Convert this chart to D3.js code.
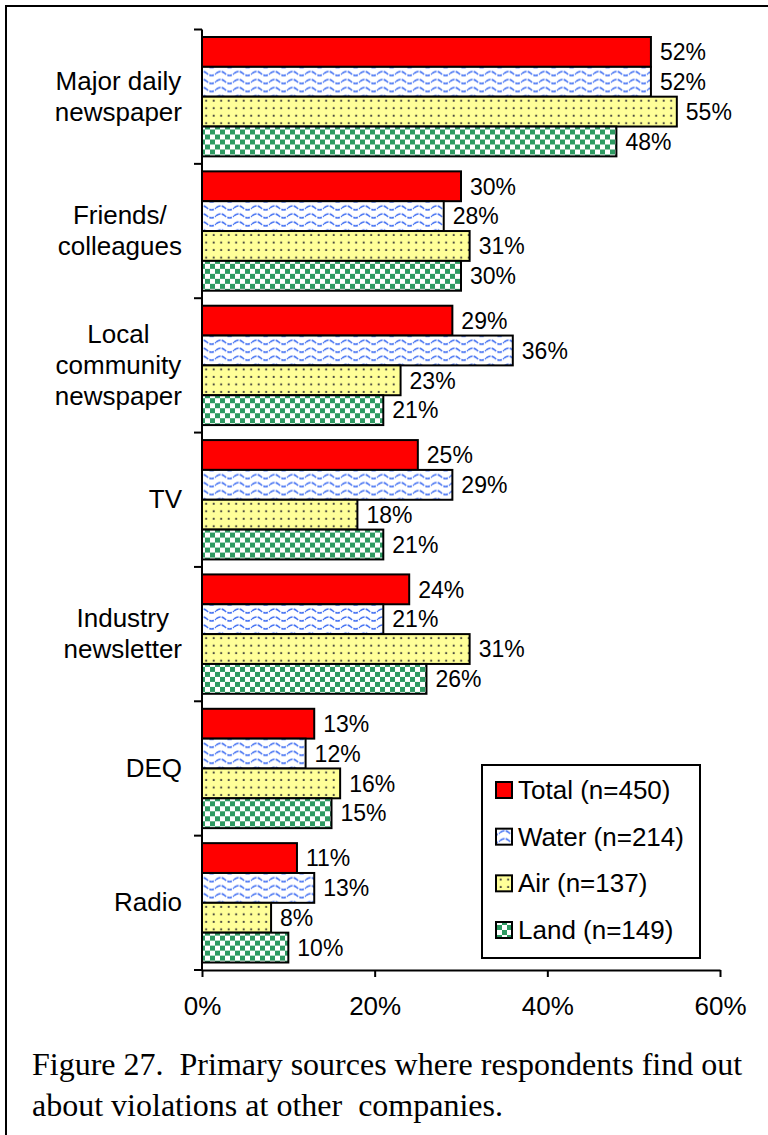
<!DOCTYPE html>
<html>
<head>
<meta charset="utf-8">
<script src="https://cdn.jsdelivr.net/npm/d3@7"></script>
<style>
body{margin:0;background:#fff}
svg{display:block}
</style>
</head>
<body>
<div id="chart"></div>
<script>

// data
const categories = [
["Major daily","newspaper"],
["Friends/","colleagues"],
["Local","community","newspaper"],
["TV"],
["Industry","newsletter"],
["DEQ"],
["Radio"]
]

const series = ["Total","Water","Air","Land"]
const legendLabels = ["Total (n=450)","Water (n=214)","Air (n=137)","Land (n=149)"]

const totalVals = [52,30,29,25,24,13,11]
const waterVals = [52,28,36,29,21,12,13]
const airVals = [55,31,23,18,31,16,8]
const landVals = [48,30,21,21,26,15,10]

const xTicks = [0,20,40,60]

const captionLines = [
"Figure 27.  Primary sources where respondents find out",
"about violations at other  companies."
]

const width = 768
const height = 1135
const sans = "'Liberation Sans', Arial, sans-serif"

const svg = d3.select("#chart")
.append("svg")
.attr("width",width)
.attr("height",height)

const defs = svg.append("defs")

// water: blue waves on white
const pw = defs.append("pattern")
.attr("id","p-water")
.attr("patternUnits","userSpaceOnUse")
.attr("width",18)
.attr("height",8)
pw.append("rect").attr("width",18).attr("height",8).attr("fill","#fff")
pw.append("path")
.attr("d","M0,4 Q4.5,0 9,4 T18,4")
.attr("fill","none")
.attr("stroke","#3f6ef2")
.attr("stroke-width",1.6)
.attr("stroke-dasharray","5,1.2")

// air: dots on pale yellow
const pa = defs.append("pattern")
.attr("id","p-air")
.attr("patternUnits","userSpaceOnUse")
.attr("width",7.5)
.attr("height",7.5)
pa.append("rect").attr("width",7.5).attr("height",7.5).attr("fill","#ffff99")
pa.append("circle").attr("cx",3.7).attr("cy",3.7).attr("r",1.1).attr("fill","#4a4a40")

// land: green checkerboard
const pl = defs.append("pattern")
.attr("id","p-land")
.attr("patternUnits","userSpaceOnUse")
.attr("width",10)
.attr("height",10)
pl.append("rect").attr("width",10).attr("height",10).attr("fill","#fff")
pl.append("rect").attr("width",5).attr("height",5).attr("fill","#2e9a62")
pl.append("rect").attr("x",5).attr("y",5).attr("width",5).attr("height",5).attr("fill","#2e9a62")

const fills = {
Total:"#ff0000",
Water:"url(#p-water)",
Air:"url(#p-air)",
Land:"url(#p-land)"
}

// outer frame (runs off right and bottom edges)
svg.append("rect")
.attr("x",6)
.attr("y",6)
.attr("width",width+20)
.attr("height",height+20)
.attr("fill","none")
.attr("stroke","#000")
.attr("stroke-width",2)

const rows = categories.map((c,i)=>({
key:i,
lines:c,
values:[totalVals[i],waterVals[i],airVals[i],landVals[i]]
}))

const x = d3.scaleLinear()
.domain([0,60])
.range([202,720])

const y = d3.scaleBand()
.domain(rows.map(d=>d.key))
.range([29.5,970])

const y1 = d3.scaleBand()
.domain(series)
.range([7.5,y.bandwidth()-7.5])

const groups = svg.selectAll("g.cat")
.data(rows)
.enter()
.append("g")
.attr("class","cat")
.attr("transform",d=>`translate(0,${y(d.key)})`)

groups.selectAll("rect")
.data(d=>d.values.map((v,j)=>({s:series[j],v:v})))
.enter()
.append("rect")
.attr("x",x(0))
.attr("y",d=>y1(d.s))
.attr("width",d=>x(d.v)-x(0))
.attr("height",y1.bandwidth())
.attr("fill",d=>fills[d.s])
.attr("stroke","#000")
.attr("stroke-width",2)

groups.selectAll("text.val")
.data(d=>d.values.map((v,j)=>({s:series[j],v:v})))
.enter()
.append("text")
.attr("class","val")
.attr("x",d=>x(d.v)+9)
.attr("y",d=>y1(d.s)+y1.bandwidth()/2)
.attr("dy","0.36em")
.attr("font-family",sans)
.attr("font-size","23px")
.attr("fill","#000")
.text(d=>d.v+"%")

// category labels, lines centred on each other, block right-aligned
const lineH = 31
groups.each(function(d){
const g = d3.select(this)
const t = g.append("text")
.attr("font-family",sans)
.attr("font-size","26px")
.attr("fill","#000")
.attr("text-anchor","middle")
const spans = d.lines.map((ln,k)=>t.append("tspan")
.attr("y",y.bandwidth()/2-(d.lines.length-1)*lineH/2+k*lineH)
.attr("dy","0.33em")
.text(ln))
const maxW = d3.max(spans,s=>s.node().getComputedTextLength())
spans.forEach(s=>s.attr("x",182-maxW/2))
})

// y axis with ticks on band edges
svg.append("line")
.attr("x1",x(0))
.attr("x2",x(0))
.attr("y1",y.range()[0])
.attr("y2",y.range()[1])
.attr("stroke","#000")
.attr("stroke-width",2)

const edges = rows.map(d=>y(d.key)).concat([y.range()[1]])
svg.selectAll("line.ytick")
.data(edges)
.enter()
.append("line")
.attr("class","ytick")
.attr("x1",x(0)-8)
.attr("x2",x(0))
.attr("y1",d=>d)
.attr("y2",d=>d)
.attr("stroke","#000")
.attr("stroke-width",2)

// x axis
const xAxis = svg.append("g")
.attr("transform",`translate(0,${y.range()[1]})`)
.call(d3.axisBottom(x)
.tickValues(xTicks)
.tickFormat(d=>d+"%")
.tickSize(7)
.tickSizeOuter(0)
.tickPadding(20))

xAxis.select(".domain").attr("stroke","#000").attr("stroke-width",2)
xAxis.selectAll(".tick line").attr("stroke","#000").attr("stroke-width",2)
xAxis.selectAll(".tick text")
.attr("font-family",sans)
.attr("font-size","26px")
.attr("fill","#000")

// legend
const legend = svg.append("g")
.attr("transform","translate(482,765)")

legend.append("rect")
.attr("width",218)
.attr("height",193)
.attr("fill","#fff")
.attr("stroke","#000")
.attr("stroke-width",2)

const ly = d3.scalePoint()
.domain(series)
.range([25,165])

const li = legend.selectAll("g.li")
.data(series)
.enter()
.append("g")
.attr("class","li")
.attr("transform",d=>`translate(0,${ly(d)})`)

li.append("rect")
.attr("x",14)
.attr("y",-8)
.attr("width",16)
.attr("height",16)
.attr("fill",d=>fills[d])
.attr("stroke","#000")
.attr("stroke-width",2)

li.append("text")
.attr("x",36)
.attr("dy","0.35em")
.attr("font-family",sans)
.attr("font-size","26px")
.attr("fill","#000")
.text((d,i)=>legendLabels[i])

// caption
svg.append("g")
.selectAll("text")
.data(captionLines)
.enter()
.append("text")
.attr("x",32)
.attr("y",(d,i)=>1075+i*41)
.attr("font-family","'Liberation Serif','Times New Roman',serif")
.attr("font-size","32px")
.attr("fill","#000")
.style("white-space","pre")
.text(d=>d)

</script>
</body>
</html>
